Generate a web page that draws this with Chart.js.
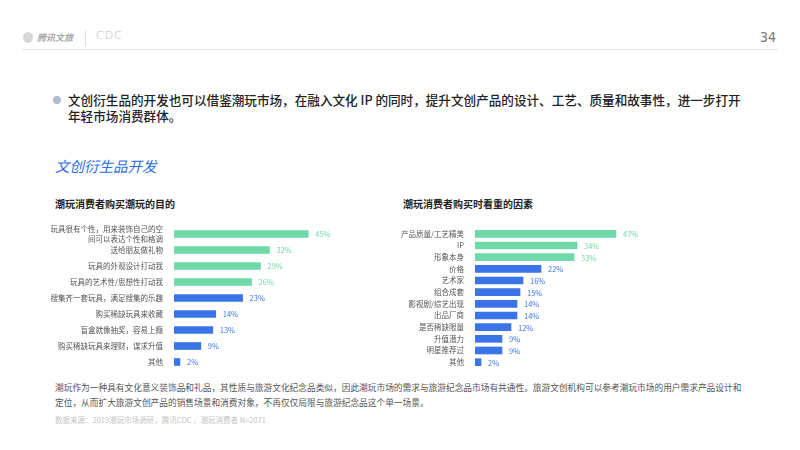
<!DOCTYPE html>
<html>
<head>
<meta charset="utf-8">
<script src="https://cdn.jsdelivr.net/npm/chart.js@4"></script>
<style>
  body { margin:0; width:800px; height:450px; background:#fff; overflow:hidden;
         font-family:"Noto Sans CJK SC","Noto Sans",sans-serif; position:relative; }
  .abs { position:absolute; white-space:nowrap; }
  #logo { left:37px; top:31px; font-size:9px; color:#a8a8a8; font-style:italic; font-weight:bold; }
  #logoDot { left:23px; top:32px; width:10px; height:11px; border-radius:50%; background:#d8d8d8; }
  #divider { left:85px; top:30px; width:1px; height:16px; background:#e0e0e0; }
  #cdc { left:96px; top:29px; font-size:11px; color:#b8b8b8; letter-spacing:1px; font-family:"DejaVu Sans"; font-weight:200; }
  #page { left:760px; top:29px; font-size:14px; color:#777; font-family:"DejaVu Sans Condensed","DejaVu Sans"; }
  #hline { left:22px; top:49px; width:756px; height:1px; background:#e6e6e6; }
  #bullet { left:53px; top:96px; width:8px; height:8px; border-radius:50%; background:#aebbd2; }
  #lead { left:68px; top:92px; font-size:12.6px; line-height:16px; color:#222; font-weight:500; }
  #section { left:55px; top:155px; font-size:14.5px; color:#2a6de6; font-style:italic; }
  .ctitle { top:196px; font-size:10px; color:#222; font-weight:bold; }
  #body { left:55px; top:380px; font-size:8.7px; line-height:15px; color:#555; }
  #src { left:55px; top:414px; font-size:7.5px; color:#c4c4c4; }
  canvas { position:absolute; }
</style>
</head>
<body>
<div class="abs" id="logoDot"></div>
<div class="abs" id="logo">腾讯文旅</div>
<div class="abs" id="divider"></div>
<div class="abs" id="cdc">CDC</div>
<div class="abs" id="page">34</div>
<div class="abs" id="hline"></div>

<div class="abs" id="bullet"></div>
<div class="abs" id="lead">文创衍生品的开发也可以借鉴潮玩市场，在融入文化 IP 的同时，提升文创产品的设计、工艺、质量和故事性，进一步打开<br>年轻市场消费群体。</div>
<div class="abs" id="section">文创衍生品开发</div>

<div class="abs ctitle" style="left:55px">潮玩消费者购买潮玩的目的</div>
<div class="abs ctitle" style="left:403px">潮玩消费者购买时看重的因素</div>

<canvas id="leftChart" width="313" height="164" style="left:40px; top:216px; width:313px; height:164px"></canvas>
<canvas id="rightChart" width="260" height="160" style="left:395px; top:218px; width:260px; height:160px"></canvas>

<div class="abs" id="body">潮玩作为一种具有文化意义装饰品和礼品，其性质与旅游文化纪念品类似，因此潮玩市场的需求与旅游纪念品市场有共通性。旅游文创机构可以参考潮玩市场的用户需求产品设计和<br>定位，从而扩大旅游文创产品的销售场景和消费对象，不再仅仅局限与旅游纪念品这个单一场景。</div>
<div class="abs" id="src">数据来源：2019潮玩市场调研，腾讯CDC ，潮玩消费者 N=2071</div>

<script>
// 潮玩消费者购买潮玩的目的
const purposeLabels = [
  ['玩具很有个性，用来装饰自己的空', '间可以表达个性和格调'],
  '送给朋友做礼物',
  '玩具的外观设计打动我',
  '玩具的艺术性/思想性打动我',
  '搜集齐一套玩具，满足搜集的乐趣',
  '购买稀缺玩具来收藏',
  '盲盒就像抽奖，容易上瘾',
  '购买稀缺玩具来理财，谋求升值',
  '其他'
];
const purposeValues = [45, 32, 29, 26, 23, 14, 13, 9, 2];

// 潮玩消费者购买时看重的因素
const factorLabels = ['产品质量/工艺精美', 'IP', '形象本身', '价格', '艺术家', '组合成套',
  '影视剧/综艺出现', '出品厂商', '是否稀缺限量', '升值潜力', '明星推荐过', '其他'];
const factorValues = [47, 34, 33, 22, 16, 15, 14, 14, 12, 9, 9, 2];

const GREEN = '#6fd9a9';
const BLUE = '#3b74e8';
const FONT = '"Noto Sans CJK SC", "Noto Sans", sans-serif';

const valueLabels = {
  id: 'valueLabels',
  afterDatasetsDraw(chart) {
    const ctx = chart.ctx;
    const ds = chart.data.datasets[0];
    chart.getDatasetMeta(0).data.forEach((bar, i) => {
      ctx.save();
      ctx.font = '7.5px ' + FONT;
      ctx.fillStyle = ds.backgroundColor[i];
      ctx.textAlign = 'left';
      ctx.textBaseline = 'middle';
      ctx.fillText(ds.data[i] + '%', bar.x + 7, bar.y + 0.5);
      ctx.restore();
    });
  }
};

function makeChart(id, labels, values, greenCount, axisWidth, pad) {
  new Chart(document.getElementById(id), {
    type: 'bar',
    data: {
      labels: labels,
      datasets: [{
        data: values,
        backgroundColor: values.map((v, i) => i < greenCount ? GREEN : BLUE),
        barThickness: 7
      }]
    },
    options: {
      indexAxis: 'y',
      responsive: false,
      animation: false,
      layout: { padding: { top: pad, bottom: pad, left: 0, right: 0 } },
      plugins: { legend: { display: false }, tooltip: { enabled: false } },
      scales: {
        x: { display: false, min: 0, max: 60 },
        y: {
          grid: { display: false, drawTicks: false },
          border: { display: false },
          ticks: { color: '#555', padding: 11, font: { size: 7.5, family: FONT, lineHeight: 1.4 }, autoSkip: false },
          afterFit(scale) {
            scale.width = axisWidth;
            scale.paddingTop = 0;
            scale.paddingBottom = 0;
          }
        }
      }
    },
    plugins: [valueLabels]
  });
}

makeChart('leftChart', purposeLabels, purposeValues, 4, 134, 10);
makeChart('rightChart', factorLabels, factorValues, 3, 80, 10);
</script>
</body>
</html>
